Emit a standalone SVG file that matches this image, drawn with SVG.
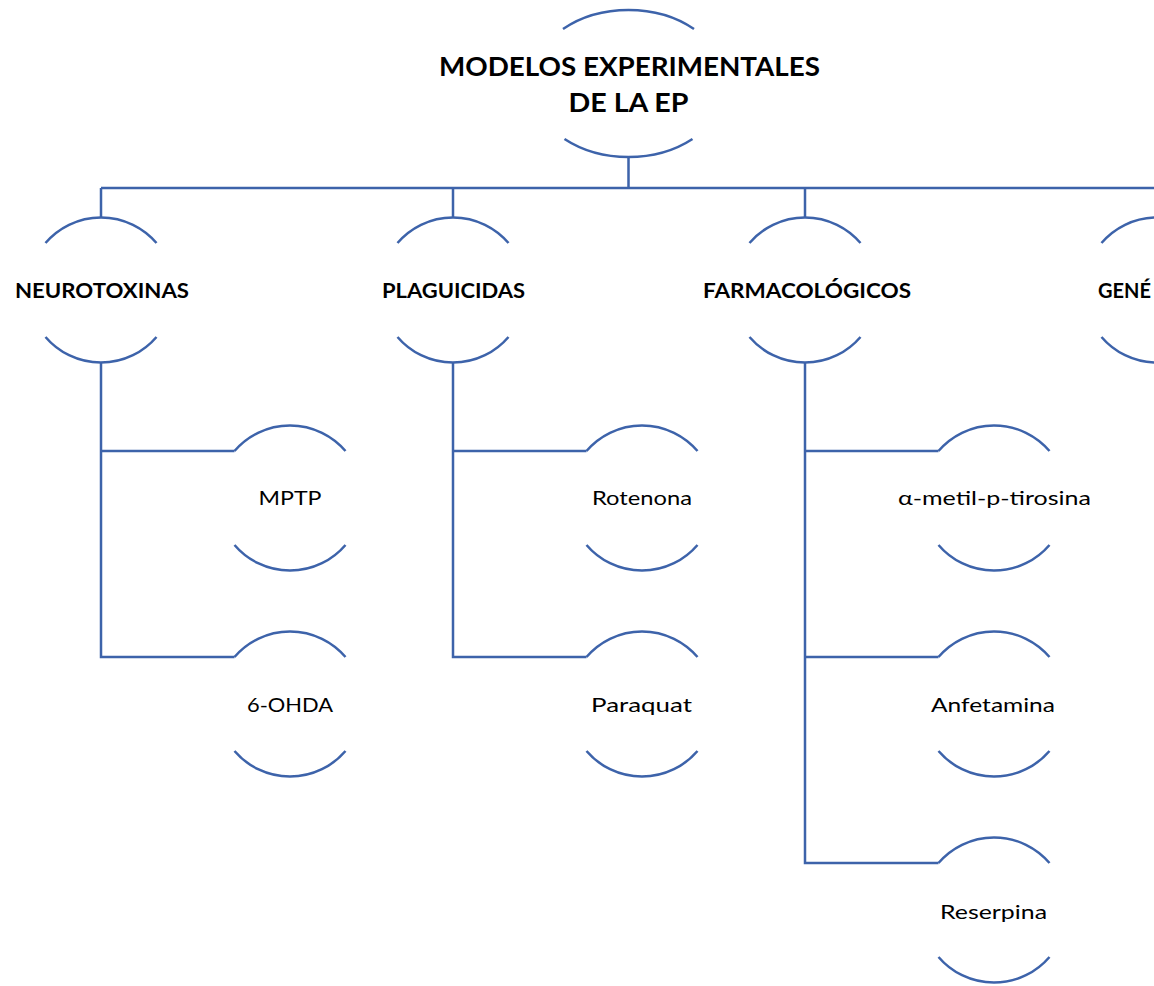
<svg xmlns="http://www.w3.org/2000/svg" width="1154" height="986" viewBox="0 0 1154 986">
<style>
.arc{fill:none;stroke:#3d63aa;stroke-width:2.5}
.con{fill:none;stroke:#3d63aa;stroke-width:2.5}
.t0{font-family:Lato,"Open Sans","Liberation Sans",sans-serif;font-weight:bold;font-size:26px;fill:#000;text-anchor:middle}
.t1{font-family:Lato,"Open Sans","Liberation Sans",sans-serif;font-weight:bold;font-size:20px;fill:#000;text-anchor:middle}
.t2{font-family:Lato,"Open Sans","Liberation Sans",sans-serif;font-size:20px;fill:#000;text-anchor:middle}
</style>
<rect width="1154" height="986" fill="#fff"/>
<g id="connectors">
<path class="con" d="M628.5,157 V188 M101,188 H1157 M101,188 V217 M453,188 V217 M805,188 V217 M1157,188 V217"/>
<path class="con" d="M101,363 V657 H234.5 M101,451 H234.5"/>
<path class="con" d="M453,363 V657 H586.5 M453,451 H586.5"/>
<path class="con" d="M805,363 V863 H938.5 M805,451 H938.5 M805,657 H938.5"/>
</g>
<g id="root">
<path class="arc" d="M563,29 A97.6,73.5 0 0 1 694,29 M564.5,139 A97.6,73.5 0 0 0 692.5,139"/>
<text class="t0" x="629.5" y="76" textLength="381" lengthAdjust="spacingAndGlyphs">MODELOS EXPERIMENTALES</text>
<text class="t0" x="628.5" y="112" textLength="120" lengthAdjust="spacingAndGlyphs">DE LA EP</text>
</g>
<g id="neurotoxinas">
<path class="arc" d="M45.5,243 A73,73 0 0 1 156.5,243 M45.5,337 A73,73 0 0 0 156.5,337"/>
<text class="t1" x="102" y="298" textLength="174" lengthAdjust="spacingAndGlyphs">NEUROTOXINAS</text>
</g>
<g id="plaguicidas">
<path class="arc" d="M397.5,243 A73,73 0 0 1 508.5,243 M397.5,337 A73,73 0 0 0 508.5,337"/>
<text class="t1" x="453.5" y="298" textLength="143" lengthAdjust="spacingAndGlyphs">PLAGUICIDAS</text>
</g>
<g id="farmacologicos">
<path class="arc" d="M749.5,243 A73,73 0 0 1 860.5,243 M749.5,337 A73,73 0 0 0 860.5,337"/>
<text class="t1" x="807" y="298" textLength="208" lengthAdjust="spacingAndGlyphs">FARMACOLÓGICOS</text>
</g>
<g id="geneticos">
<path class="arc" d="M1101.5,243 A73,73 0 0 1 1212.5,243 M1101.5,337 A73,73 0 0 0 1212.5,337"/>
<text class="t1" x="1098" y="298" style="text-anchor:start">GENÉ</text>
</g>
<g id="mptp">
<path class="arc" d="M234.5,451 A73,73 0 0 1 345.5,451 M234.5,545 A73,73 0 0 0 345.5,545"/>
<text class="t2" x="290" y="505" textLength="63" lengthAdjust="spacingAndGlyphs">MPTP</text>
</g>
<g id="ohda">
<path class="arc" d="M234.5,657 A73,73 0 0 1 345.5,657 M234.5,751 A73,73 0 0 0 345.5,751"/>
<text class="t2" x="290" y="712" textLength="86" lengthAdjust="spacingAndGlyphs">6-OHDA</text>
</g>
<g id="rotenona">
<path class="arc" d="M586.5,451 A73,73 0 0 1 697.5,451 M586.5,545 A73,73 0 0 0 697.5,545"/>
<text class="t2" x="642" y="505" textLength="100" lengthAdjust="spacingAndGlyphs">Rotenona</text>
</g>
<g id="paraquat">
<path class="arc" d="M586.5,657 A73,73 0 0 1 697.5,657 M586.5,751 A73,73 0 0 0 697.5,751"/>
<text class="t2" x="641.5" y="712" textLength="101" lengthAdjust="spacingAndGlyphs">Paraquat</text>
</g>
<g id="alfametil">
<path class="arc" d="M938.5,451 A73,73 0 0 1 1049.5,451 M938.5,545 A73,73 0 0 0 1049.5,545"/>
<text class="t2" x="994.5" y="505" textLength="193" lengthAdjust="spacingAndGlyphs">α-metil-p-tirosina</text>
</g>
<g id="anfetamina">
<path class="arc" d="M938.5,657 A73,73 0 0 1 1049.5,657 M938.5,751 A73,73 0 0 0 1049.5,751"/>
<text class="t2" x="993" y="712" textLength="124" lengthAdjust="spacingAndGlyphs">Anfetamina</text>
</g>
<g id="reserpina">
<path class="arc" d="M938.5,863 A73,73 0 0 1 1049.5,863 M938.5,957 A73,73 0 0 0 1049.5,957"/>
<text class="t2" x="993.5" y="919" textLength="107" lengthAdjust="spacingAndGlyphs">Reserpina</text>
</g>
</svg>
